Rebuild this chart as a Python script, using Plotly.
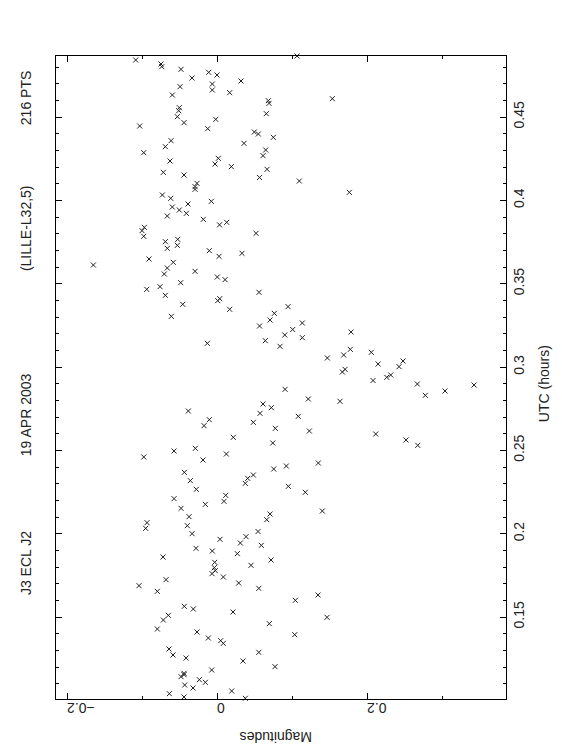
import plotly.graph_objects as go

# UTC (hours) and differential magnitudes
utc = [0.4842, 0.4818, 0.4802, 0.4786, 0.4734, 0.4768, 0.4752, 0.4716, 0.4682, 0.4698,
       0.4662, 0.4632, 0.4646, 0.4556, 0.4538, 0.4502, 0.4466, 0.4486, 0.4446, 0.4430,
       0.4410, 0.4398, 0.4358, 0.4322, 0.4342, 0.4286, 0.4236, 0.4252, 0.4218, 0.4202,
       0.4168, 0.4152, 0.4137, 0.4102, 0.4082, 0.4066, 0.4032, 0.4012, 0.3994, 0.3960,
       0.3942, 0.3978, 0.3922, 0.3906, 0.3886, 0.3853, 0.3868, 0.3838, 0.3818, 0.3784,
       0.3802, 0.3752, 0.3766, 0.3712, 0.3730, 0.3698, 0.3664, 0.3682, 0.3612, 0.3648,
       0.3628, 0.3594, 0.3558, 0.3574, 0.3540, 0.3524, 0.3506, 0.3482, 0.3466, 0.3430,
       0.3448, 0.3410, 0.3398, 0.3376, 0.3346, 0.3304, 0.3246, 0.3142, 0.4598, 0.4582,
       0.4610, 0.4520, 0.4378, 0.4302, 0.4268, 0.4186, 0.4116, 0.4048, 0.4866, 0.3362,
       0.3322, 0.3282, 0.3264, 0.3225, 0.3192, 0.3176, 0.3158, 0.3124, 0.3210, 0.3106,
       0.3072, 0.3054, 0.3088, 0.3018, 0.3036, 0.3002, 0.2986, 0.2970, 0.2952, 0.2938,
       0.2919, 0.2898, 0.2830, 0.2866, 0.2808, 0.2794, 0.2778, 0.2756, 0.2722, 0.2704,
       0.2632, 0.2616, 0.2598, 0.2562, 0.2530, 0.2544, 0.2424, 0.2388, 0.2406, 0.2284,
       0.2248, 0.2136, 0.2118, 0.2084, 0.1930, 0.1842, 0.1600, 0.1632, 0.1460, 0.1498,
       0.1394, 0.1202, 0.2856, 0.2892, 0.2736, 0.2668, 0.2648, 0.2684, 0.2578, 0.2496,
       0.2460, 0.2512, 0.2442, 0.2478, 0.2368, 0.2318, 0.2266, 0.2302, 0.2332, 0.2352,
       0.2210, 0.2152, 0.2176, 0.2230, 0.2194, 0.2102, 0.2048, 0.2000, 0.2066, 0.2032,
       0.2013, 0.1982, 0.1966, 0.1944, 0.1912, 0.1896, 0.1880, 0.1860, 0.1828, 0.1796,
       0.1778, 0.1760, 0.1810, 0.1740, 0.1724, 0.1704, 0.1688, 0.1654, 0.1672, 0.1564,
       0.1548, 0.1530, 0.1510, 0.1482, 0.1428, 0.1410, 0.1374, 0.1358, 0.1342, 0.1288,
       0.1308, 0.1272, 0.1254, 0.1236, 0.1182, 0.1162, 0.1154, 0.1142, 0.1092, 0.1124,
       0.1108, 0.1074, 0.1040, 0.1020, 0.1056, 0.1012]

mag = [-0.1084, -0.0747, -0.0737, -0.0480, -0.0333, -0.0111, 0.0000, 0.0320, -0.0493, -0.0063,
       -0.0063, -0.0596, 0.0169, -0.0503, -0.0511, -0.0529, -0.0440, -0.0017, -0.1031, -0.0124,
       0.0497, 0.0551, -0.0613, -0.0689, 0.0360, -0.0977, -0.0627, 0.0017, -0.0027, 0.0191,
       -0.0716, -0.0440, 0.0567, -0.0267, -0.0293, -0.0293, -0.0729, -0.0617, -0.0076, -0.0596,
       -0.0503, -0.0387, -0.0409, -0.0663, -0.0183, 0.0033, 0.0129, -0.0969, -0.1000, -0.0977,
       0.0520, -0.0689, -0.0524, -0.0663, -0.0529, -0.0103, 0.0027, 0.0333, -0.1649, -0.0907,
       -0.0583, -0.0663, -0.0703, -0.0293, 0.0004, 0.0107, -0.0484, -0.0760, -0.0937, -0.0689,
       0.0560, 0.0036, 0.0009, -0.0457, 0.0169, -0.0609, 0.0567, -0.0129, 0.0684, 0.0693,
       0.1537, 0.0657, 0.0751, 0.0649, 0.0613, 0.0667, 0.1097, 0.1764, 0.1067, 0.0947,
       0.0764, 0.0707, 0.1137, 0.1009, 0.0903, 0.1137, 0.0644, 0.0840, 0.1787, 0.1777,
       0.1689, 0.1471, 0.2057, 0.2147, 0.2480, 0.2427, 0.1707, 0.1671, 0.2316, 0.2263,
       0.2080, 0.2671, 0.2777, 0.0907, 0.1217, 0.1640, 0.0613, 0.0724, 0.0573, 0.1084,
       0.0777, 0.1231, 0.2116, 0.2520, 0.2676, 0.0743, 0.1351, 0.0756, 0.0924, 0.0951,
       0.1177, 0.1404, 0.0707, 0.0663, 0.0591, 0.0720, 0.1044, 0.1347, 0.0697, 0.1467,
       0.1036, 0.0773, 0.3040, 0.3427, -0.0383, 0.0484, -0.0173, -0.0103, 0.0217, -0.0573,
       -0.0977, -0.0289, -0.0187, 0.0124, -0.0436, -0.0356, -0.0276, 0.0377, 0.0409, 0.0484,
       -0.0573, -0.0480, -0.0156, 0.0116, 0.0093, -0.0373, -0.0396, -0.0333, -0.0933, -0.0951,
       0.0547, 0.0387, 0.0040, 0.0311, -0.0280, -0.0063, 0.0271, -0.0720, -0.0031, -0.0036,
       -0.0023, -0.0067, 0.0453, 0.0084, -0.0680, 0.0289, -0.1040, -0.0796, 0.0557, -0.0436,
       -0.0316, 0.0213, -0.0649, -0.0716, -0.0796, -0.0267, -0.0116, 0.0049, 0.0084, 0.0557,
       -0.0640, -0.0587, -0.0413, 0.0347, -0.0071, -0.0440, -0.0440, -0.0480, -0.0431, -0.0236,
       -0.0156, -0.0320, -0.0636, -0.0440, 0.0196, 0.0377]

mag_range = [-0.2147, 0.3853]
utc_range = [0.1008, 0.4866]
mag_ticks = [-0.2, 0, 0.2]
mag_ticktext = ["\u22120.2", "0", "0.2"]
utc_ticks = [0.15, 0.2, 0.25, 0.3, 0.35, 0.4, 0.45]
utc_ticktext = ["0.15", "0.2", "0.25", "0.3", "0.35", "0.4", "0.45"]

titles = ["J3 ECL J2", "19 APR 2003", "(LILLE-L32,5)", "216 PTS"]
title_pos = [0.212, 0.442, 0.733, 0.935]

FONT = "Liberation Sans, Arial, sans-serif"
INK = "#222222"

fig = go.Figure()
fig.add_trace(go.Scatter(
    x=mag, y=utc, mode="markers",
    marker=dict(symbol="x-thin", size=5, line=dict(width=1, color=INK), color=INK),
    cliponaxis=False, hoverinfo="skip", showlegend=False,
))

fig.update_xaxes(
    range=mag_range, tickvals=mag_ticks, ticktext=mag_ticktext, tickangle=180,
    ticks="inside", ticklen=6, tickcolor="black", tickwidth=1,
    minor=dict(dtick=0.1, tick0=0, ticks="inside", ticklen=3, tickcolor="black", tickwidth=1),
    showline=True, linecolor="black", linewidth=1, mirror="allticks",
    showgrid=False, zeroline=False, automargin=False,
    tickfont=dict(family=FONT, size=14, color=INK),
)
fig.update_yaxes(
    range=utc_range, tickvals=utc_ticks, ticktext=utc_ticktext, tickangle=-90, side="right",
    ticks="inside", ticklen=6, tickcolor="black", tickwidth=1,
    minor=dict(dtick=0.01, tick0=0, ticks="inside", ticklen=3, tickcolor="black", tickwidth=1),
    showline=True, linecolor="black", linewidth=1, mirror="allticks",
    showgrid=False, zeroline=False, automargin=False,
    tickfont=dict(family=FONT, size=14, color=INK),
)

annotations = [
    dict(text="Magnitudes", xref="paper", yref="paper", x=0.49, y=-0.06,
         textangle=180, showarrow=False, xanchor="center", yanchor="middle",
         font=dict(family=FONT, size=14, color=INK)),
    dict(text="UTC (hours)", xref="paper", yref="paper", x=1.085, y=0.49,
         textangle=-90, showarrow=False, xanchor="center", yanchor="middle",
         font=dict(family=FONT, size=14, color=INK)),
]
for t, p in zip(titles, title_pos):
    annotations.append(dict(text=t, xref="paper", yref="paper", x=-0.068, y=p,
                            textangle=-90, showarrow=False, xanchor="center", yanchor="middle",
                            font=dict(family=FONT, size=14, color=INK)))

# page body has an 8px default margin, so the figure is 8px smaller on each axis
fig.update_layout(
    width=554, height=748,
    margin=dict(l=48, r=56, t=48, b=57),
    plot_bgcolor="white", paper_bgcolor="white",
    annotations=annotations,
)

fig.write_html("out.html")
